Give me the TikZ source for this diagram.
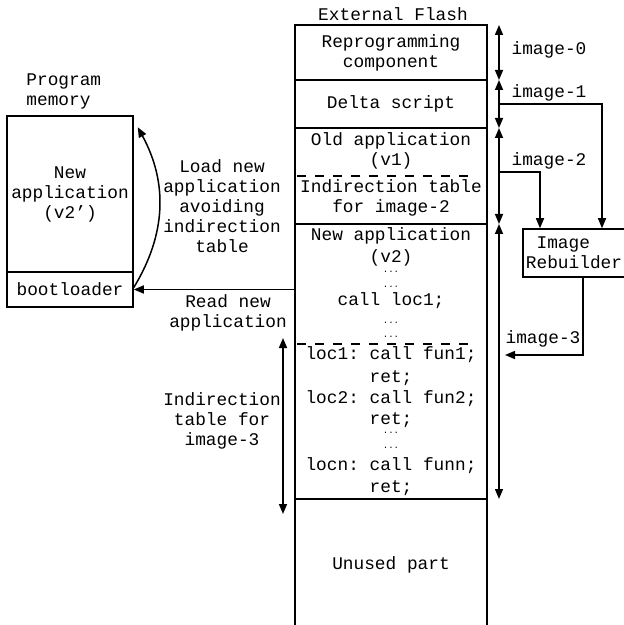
\documentclass[tikz,border=0pt]{standalone}
\usepackage{fontspec}
\setmainfont{Liberation Mono}
\usepackage{tikz}
\usetikzlibrary{positioning, arrows.meta}
\tikzset{
  >={Triangle[length=5pt, width=4pt]},
  every node/.style={font=\fontsize{8.9}{10}\selectfont, inner sep=0pt},
  memblock/.style={
    rectangle, draw, line width=0.75pt, minimum width=96pt,
    inner sep=0pt, align=center
  },
  pmblock/.style={
    rectangle, draw, line width=0.75pt, minimum width=63pt,
    inner sep=0pt, align=center
  },
  codeline/.style={anchor=base},
  notelabel/.style={align=center},
  flowarrow/.style={->, line width=0.75pt},
  spanarrow/.style={<->, line width=0.75pt},
  splitline/.style={line width=0.75pt, dash pattern=on 4.5pt off 4.5pt}
}
\newcommand{\mdots}{{\fontsize{4.5}{5}\selectfont...}}
\frenchspacing

\begin{document}
\begin{tikzpicture}[x=0.5pt, y=-0.5pt]
\useasboundingbox (0,0) rectangle (623,625);

% ── External flash column ────────────────────────────────────────────────────
\node (flashlbl) at (393,14) {External Flash};
\node[memblock, minimum height=27.5pt] (reprog) at (391,52.5) {Reprogramming\\component};
\node[memblock, minimum height=24pt] (delta) at (391,104) {Delta script};
\node[memblock, minimum height=48pt] (oldapp) at (391,176) {};
\node[memblock, minimum height=137.5pt] (newapp) at (391,361.5) {};
\node[memblock, minimum height=65.5pt] (unused) at (391,564.5) {Unused part};

\node[notelabel] (oldtxt) at (391,151) {Old application\\(v1)};
\node[notelabel] (indtxt) at (391,198) {Indirection table\\for image-2};
\draw[splitline] (297,176) -- (477,176);
\draw[splitline] (297,344) -- (477,344);

% code lines of the new application
\foreach \yy/\txt [count=\i] in {241/{New application}, 263/{(v2)}, 272/\mdots,
    287/\mdots, 306/{call loc1;}, 323/\mdots, 337/\mdots, 359/{loc1: call fun1;},
    382/{ret;}, 403/{loc2: call fun2;}, 424/{ret;}, 433/\mdots, 448/\mdots,
    470/{locn: call funn;}, 492/{ret;}}
  \node[codeline] (code\i) at (391,\yy) {\txt};

% ── Image spans (right of the flash) ─────────────────────────────────────────
\coordinate (r0) at (499,25);
\coordinate (r1) at (499,80);
\coordinate (r2) at (499,128);
\coordinate (r3) at (499,224);
\coordinate (r4) at (499,499);
\draw[spanarrow] (r0) -- (r1);
\draw[spanarrow] (r1) -- (r2);
\draw[spanarrow] (r2) -- (r3);
\draw[spanarrow] (r3) -- (r4);

\node (im0) at (549,50) {image-0};
\node (im1) at (549,93) {image-1};
\node (im2) at (549,161) {image-2};
\node (im3) at (543,339) {image-3};

% ── Image rebuilder ──────────────────────────────────────────────────────────
\node[rectangle, draw, line width=0.75pt, minimum width=51pt, minimum height=24pt,
      align=left] (rebuild) at (574,253) {\phantom{R}Image\\Rebuilder};

\coordinate (t1) at (499,104);
\coordinate (t2) at (499,172);
\coordinate (t3) at (505,355);
\draw[flowarrow] (t1) -| ([xshift=14pt]rebuild.north);
\draw[flowarrow] (t2) -| ([xshift=-17pt]rebuild.north);
\draw[flowarrow] ([xshift=4.5pt]rebuild.south) |- (t3);

% ── Program memory (left) ────────────────────────────────────────────────────
\node[align=left, anchor=west] (pmlbl) at (26,91) {Program\\memory};
\node[pmblock, minimum height=78pt] (pm) at (70,194) {New\\application\\(v2’)};
\node[pmblock, minimum height=17.5pt] (boot) at (70,289.5) {bootloader};

\draw[flowarrow] (newapp.west |- boot.east) -- (boot.east);
\draw[flowarrow] ([yshift=1pt]boot.east) to[bend right=30] ([xshift=2pt, yshift=-6pt]pm.north east);

\node[notelabel] (loadlbl) at (222,206) {Load new\\application\\avoiding\\indirection\\table};
\node[notelabel] (readlbl) at (228,313) {Read new\\application};

% ── Indirection table span ───────────────────────────────────────────────────
\coordinate (it0) at (283,338);
\coordinate (it1) at (283,514);
\draw[spanarrow] (it0) -- (it1);
\node[notelabel] (itlbl) at (222,421) {Indirection\\table for\\image-3};

\end{tikzpicture}
\end{document}
